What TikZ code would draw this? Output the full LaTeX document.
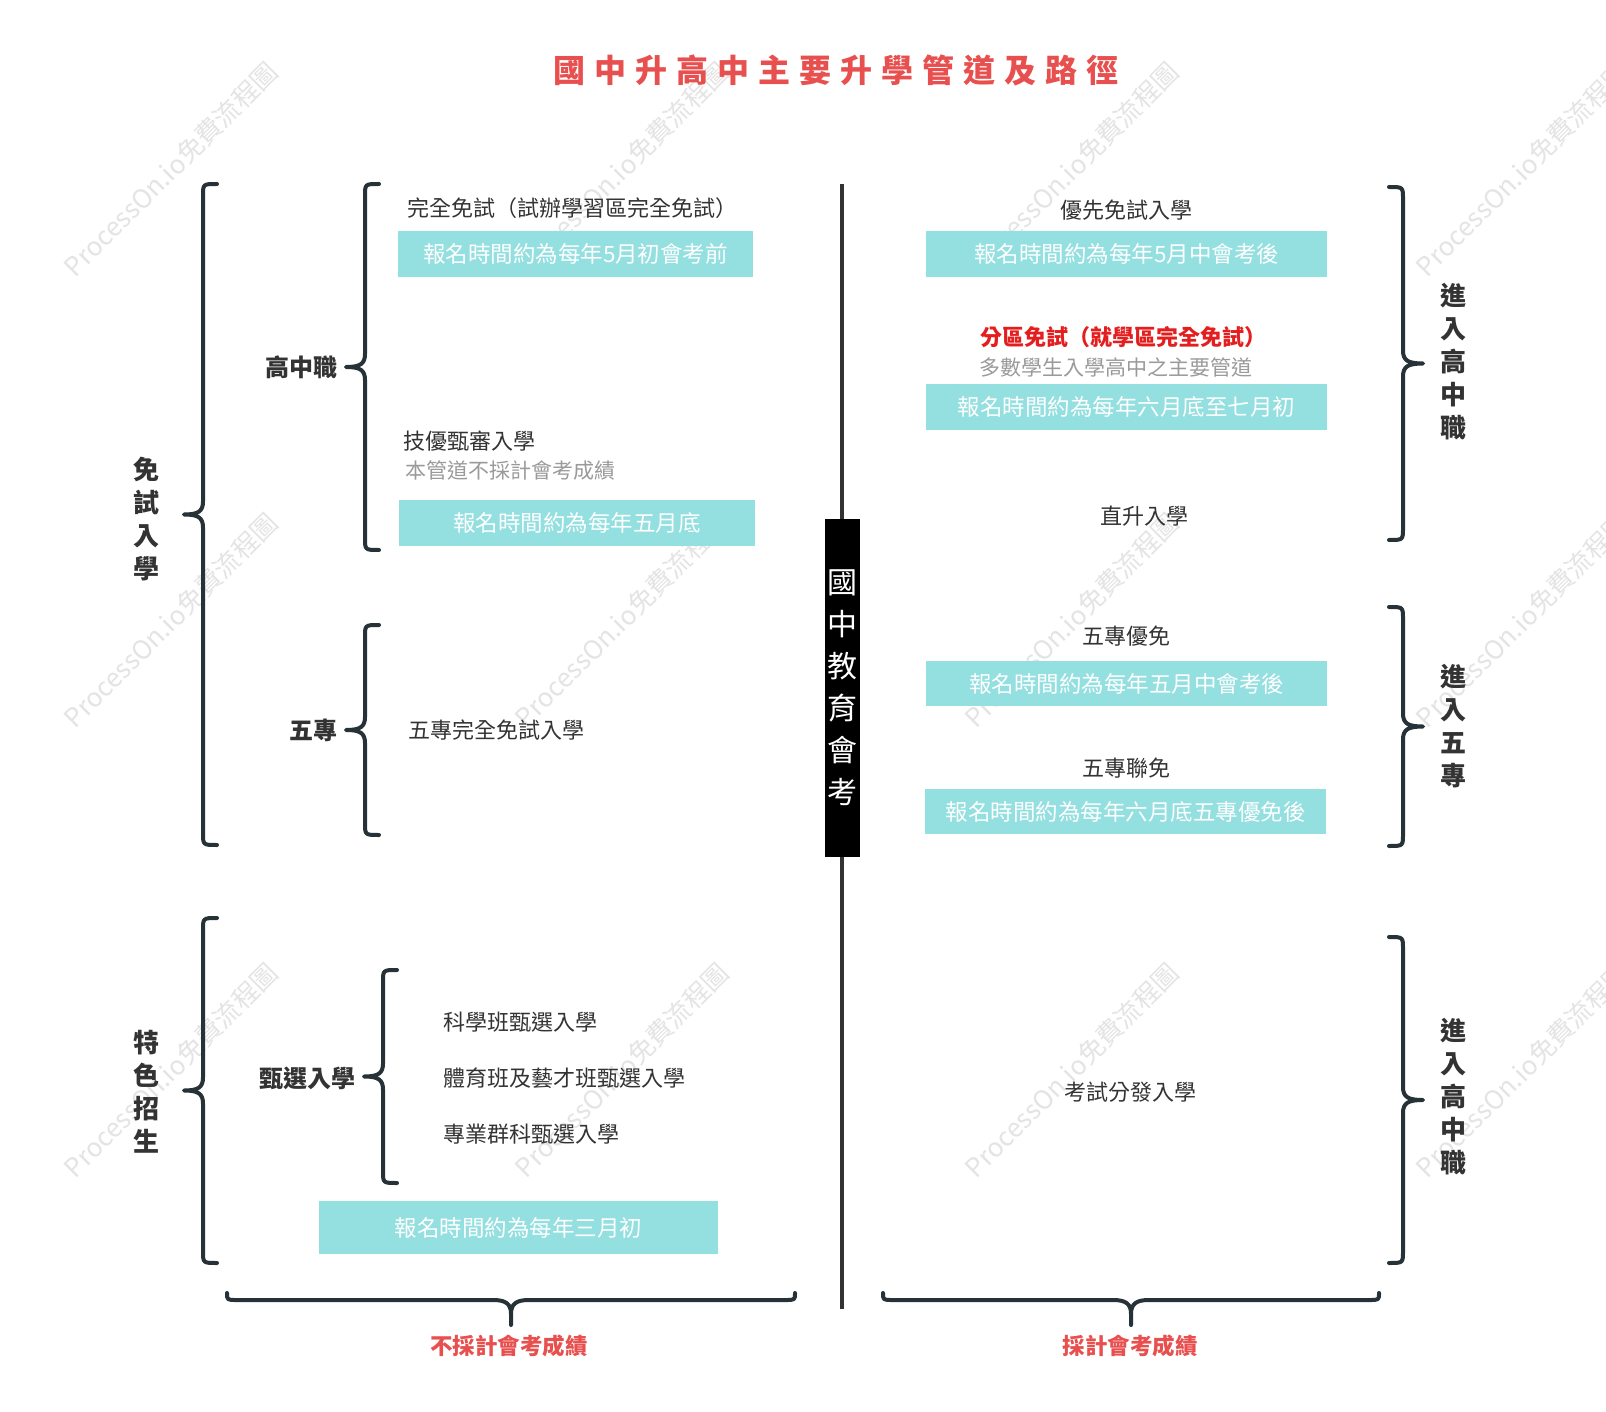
\documentclass[tikz,border=0pt]{standalone}
\usepackage{fontspec}
\setmainfont{Noto Sans CJK TC}
\definecolor{txtc}{HTML}{333333}
\definecolor{grayc}{HTML}{9A9A9A}
\definecolor{cyanc}{HTML}{94DFE0}
\definecolor{bracec}{HTML}{263238}
\definecolor{redc}{HTML}{E8504F}
\definecolor{brightred}{HTML}{E41E1E}
\definecolor{linec}{HTML}{333333}
\definecolor{wmc}{HTML}{E4E4E4}
\newcommand\mytsp{\kern9pt}
% left-pointing brace: #1 end x, #2 top y, #3 bottom y
\newcommand\mybraceL[3]{%
  \pgfmathsetmacro\bxl{#1-14}\pgfmathsetmacro\bxt{#1-33}\pgfmathsetmacro\bym{(#2+#3)/2}%
  \draw[brline] (#1,#2) .. controls (\bxl,#2) .. (\bxl,#2+12) -- (\bxl,\bym-13)
    .. controls (\bxl,\bym-3) and (\bxl-5,\bym) .. (\bxt,\bym)
    .. controls (\bxl-5,\bym) and (\bxl,\bym+3) .. (\bxl,\bym+13)
    -- (\bxl,#3-12) .. controls (\bxl,#3) .. (#1,#3);}
% right-pointing brace
\newcommand\mybraceR[3]{%
  \pgfmathsetmacro\bxl{#1+14}\pgfmathsetmacro\bxt{#1+34}\pgfmathsetmacro\bym{(#2+#3)/2}%
  \draw[brline] (#1,#2) .. controls (\bxl,#2) .. (\bxl,#2+12) -- (\bxl,\bym-13)
    .. controls (\bxl,\bym-3) and (\bxl+5,\bym) .. (\bxt,\bym)
    .. controls (\bxl+5,\bym) and (\bxl,\bym+3) .. (\bxl,\bym+13)
    -- (\bxl,#3-12) .. controls (\bxl,#3) .. (#1,#3);}
% downward brace: #1 left x, #2 right x, #3 end y
\newcommand\mybraceD[3]{%
  \pgfmathsetmacro\byl{#3+7}\pgfmathsetmacro\bxm{(#1+#2)/2}%
  \draw[brline] (#1,#3) .. controls (#1,\byl) .. (#1+10,\byl) -- (\bxm-18,\byl)
    .. controls (\bxm-5,\byl) and (\bxm,\byl+4) .. (\bxm,\byl+14) -- (\bxm,\byl+25)
    -- (\bxm,\byl+14) .. controls (\bxm,\byl+4) and (\bxm+5,\byl) .. (\bxm+18,\byl)
    -- (#2-10,\byl) .. controls (#2,\byl) .. (#2,#3);}
\begin{document}
\begin{tikzpicture}[x=1pt,y=-1pt,
  txt/.style={font=\fontsize{22}{26}\selectfont, text=txtc, inner sep=0pt},
  subtxt/.style={font=\fontsize{21}{25}\selectfont, text=grayc, inner sep=0pt},
  lbl/.style={font=\fontsize{24}{28}\selectfont\bfseries, text=txtc, inner sep=0pt},
  vlbl/.style={font=\fontsize{26}{33}\selectfont\bfseries, text=txtc, align=center, inner sep=0pt},
  redlbl/.style={font=\fontsize{22.5}{26}\selectfont\bfseries, text=redc, inner sep=0pt},
  timebox/.style={fill=cyanc, text=white, font=\fontsize{22.5}{26}\selectfont, inner sep=0pt},
  brline/.style={draw=bracec, line width=4pt, line cap=round, line join=round},
  wm/.style={font=\fontsize{26}{30}\selectfont, text=wmc, rotate=45, inner sep=0pt}
]
\useasboundingbox (0,0) rectangle (1606,1412);
\fill[white] (0,0) rectangle (1606,1412);

% watermarks
\foreach \x in {171,622,1072,1523}{
  \foreach \y in {169,620,1070}{
    \node[wm] (wm-\x-\y) at (\x,\y) {ProcessOn.io免費流程圖};
  }
}

% title
\node[font=\fontsize{32}{36}\selectfont\bfseries, text=redc, inner sep=0pt] (title) at (836,70)
 {國\mytsp 中\mytsp 升\mytsp 高\mytsp 中\mytsp 主\mytsp 要\mytsp 升\mytsp 學\mytsp 管\mytsp 道\mytsp 及\mytsp 路\mytsp 徑};

% central line and box
\coordinate (ltop) at (842,184);
\coordinate (lbot) at (842,1309);
\draw[linec, line width=4pt] (ltop) -- (lbot);
\node[fill=black, minimum width=35pt, minimum height=338pt, inner sep=0pt,
      font=\fontsize{30}{42}\selectfont, text=white, align=center] (exam) at (842.5,688)
      {國\\中\\教\\育\\會\\考};

% ---------- left side ----------
\mybraceL{217}{184}{845}
\node[vlbl] (mianshi) at (146,519) {免\\試\\入\\學};

\mybraceL{379}{184}{550}
\node[lbl, anchor=east] (gzz) at (338,367) {高中職};

\node[txt, anchor=west] (wq) at (407,208) {完全免試（試辦學習區完全免試）};
\node[timebox, minimum width=355pt, minimum height=46pt] (t1) at (575.5,254) {報名時間約為每年5月初會考前};
\node[txt, anchor=west] (jy) at (403,441) {技優甄審入學};
\node[subtxt, anchor=west] (jysub) at (405,471) {本管道不採計會考成績};
\node[timebox, minimum width=356pt, minimum height=46pt] (t2) at (577,523) {報名時間約為每年五月底};

\mybraceL{379}{625}{835}
\node[lbl, anchor=east] (wz) at (338,730) {五專};
\node[txt, anchor=west] (wzq) at (408,730) {五專完全免試入學};

\mybraceL{217}{918}{1263}
\node[vlbl] (tese) at (146,1092) {特\\色\\招\\生};

\mybraceL{397}{970}{1183}
\node[lbl, anchor=east] (zx) at (356,1078) {甄選入學};
\node[txt, anchor=west] (kx) at (443,1022) {科學班甄選入學};
\node[txt, anchor=west] (ty) at (443,1078) {體育班及藝才班甄選入學};
\node[txt, anchor=west] (zy) at (443,1134) {專業群科甄選入學};
\node[timebox, minimum width=399pt, minimum height=53pt] (t3) at (518.5,1227.5) {報名時間約為每年三月初};

% ---------- right side ----------
\node[txt] (yx) at (1126,210) {優先免試入學};
\node[timebox, minimum width=401pt, minimum height=46pt] (t4) at (1126.5,254) {報名時間約為每年5月中會考後};
\node[font=\fontsize{22}{26}\selectfont\bfseries, text=brightred, inner sep=0pt, anchor=west] (fq) at (980,337) {分區免試（就學區完全免試）};
\node[subtxt, anchor=west] (fqsub) at (979,367) {多數學生入學高中之主要管道};
\node[timebox, minimum width=401pt, minimum height=46pt] (t5) at (1126.5,407) {報名時間約為每年六月底至七月初};
\node[txt] (zs) at (1144,516) {直升入學};

\mybraceR{1389}{187}{540}
\node[vlbl] (jr1) at (1453,362) {進\\入\\高\\中\\職};

\node[txt] (wy) at (1126,636) {五專優免};
\node[timebox, minimum width=401pt, minimum height=45pt] (t6) at (1126.5,683.5) {報名時間約為每年五月中會考後};
\node[txt] (wl) at (1126,768) {五專聯免};
\node[timebox, minimum width=401pt, minimum height=45pt] (t7) at (1125.5,811.5) {報名時間約為每年六月底五專優免後};

\mybraceR{1389}{607}{846}
\node[vlbl] (jr2) at (1453,726) {進\\入\\五\\專};

\node[txt] (ks) at (1130,1092) {考試分發入學};
\mybraceR{1389}{937}{1263}
\node[vlbl] (jr3) at (1453,1097) {進\\入\\高\\中\\職};

% ---------- bottom ----------
\mybraceD{227}{795}{1293}
\node[redlbl] (bc) at (509,1346) {不採計會考成績};
\mybraceD{883}{1379}{1293}
\node[redlbl] (cj) at (1130,1346) {採計會考成績};
\end{tikzpicture}
\end{document}
